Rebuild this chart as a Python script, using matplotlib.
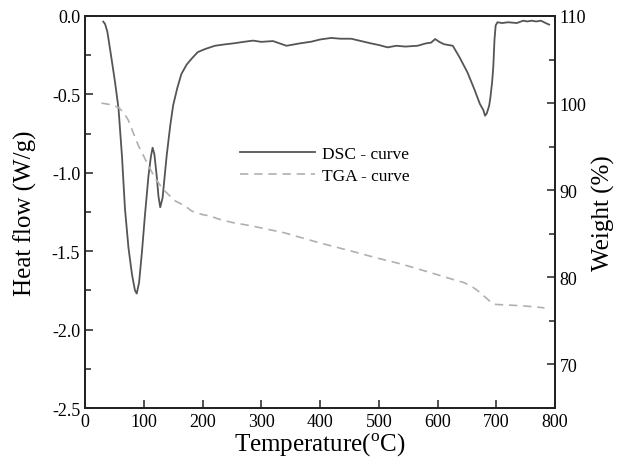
import matplotlib
matplotlib.use('Agg')
import matplotlib.pyplot as plt
from matplotlib.ticker import MultipleLocator

plt.rcParams['font.family'] = 'Liberation Serif'
plt.rcParams['mathtext.fontset'] = 'custom'
plt.rcParams['mathtext.rm'] = 'Liberation Serif'

# DSC curve (heat flow, W/g)
dsc_temp = [31, 34, 38, 45, 51, 57, 63, 68, 74, 80, 85, 88, 92, 97, 102, 108, 112, 115, 118,
            122, 125, 128, 132, 139, 145, 150, 157, 164, 173, 182, 192, 205, 221, 240, 252,
            270, 286, 300, 320, 343, 365, 385, 400, 419, 435, 453, 470, 487, 500, 515, 530,
            545, 566, 580, 589, 596, 603, 611, 626, 637, 651, 663, 672, 678, 681, 684, 688,
            690, 693, 695, 697, 699, 702, 710, 720, 735, 746, 753, 760, 768, 776, 784, 790]
dsc_heat = [-0.036, -0.05, -0.10, -0.27, -0.42, -0.59, -0.90, -1.23, -1.48, -1.65, -1.75, -1.77,
            -1.70, -1.50, -1.27, -1.02, -0.90, -0.84, -0.88, -1.02, -1.15, -1.22, -1.16, -0.89,
            -0.70, -0.57, -0.46, -0.37, -0.31, -0.27, -0.23, -0.21, -0.19, -0.18, -0.175, -0.165,
            -0.157, -0.165, -0.16, -0.19, -0.175, -0.164, -0.15, -0.14, -0.145, -0.145, -0.16,
            -0.175, -0.185, -0.20, -0.19, -0.195, -0.19, -0.175, -0.17, -0.147, -0.165, -0.18,
            -0.19, -0.26, -0.36, -0.47, -0.56, -0.60, -0.636, -0.62, -0.57, -0.52, -0.42, -0.32,
            -0.15, -0.06, -0.04, -0.045, -0.04, -0.045, -0.03, -0.035, -0.03, -0.035, -0.03,
            -0.045, -0.055]

# TGA curve (weight, %)
tga_temp = [28, 45, 57, 66, 74, 82, 91, 100, 108, 120, 133, 145, 153, 170, 182, 200, 213, 227,
            250, 284, 340, 397, 454, 498, 540, 570, 600, 629, 645, 657, 668, 680, 690, 697, 710,
            726, 750, 782]
tga_weight = [100.0, 99.8, 99.5, 98.9, 98.0, 96.6, 95.1, 93.9, 92.8, 91.3, 90.1, 89.3, 88.8, 88.2,
              87.6, 87.2, 87.05, 86.7, 86.3, 85.9, 85.1, 84.0, 83.0, 82.2, 81.5, 80.9, 80.3, 79.7,
              79.4, 79.0, 78.5, 77.8, 77.2, 76.9, 76.85, 76.8, 76.7, 76.5]

fig = plt.figure(figsize=(6.22, 4.64), dpi=100)
ax = fig.add_axes([0.1367, 0.1185, 0.7556, 0.8449])
ax2 = ax.twinx()

l1, = ax.plot(dsc_temp, dsc_heat, color='#555555', lw=1.3, label='DSC - curve')
l2, = ax2.plot(tga_temp, tga_weight, color='#b0b0b0', lw=1.2, linestyle=(0, (5, 3.5)),
               label='TGA - curve')

ax.set_xlim(0, 800)
ax.set_ylim(-2.5, 0)
ax2.set_ylim(65, 110)

ax.xaxis.set_major_locator(MultipleLocator(100))
ax.yaxis.set_minor_locator(MultipleLocator(0.25))
ax2.yaxis.set_minor_locator(MultipleLocator(5))
ax.set_yticks([0.0, -0.5, -1.0, -1.5, -2.0, -2.5])
ax.set_yticklabels(['0.0', '-0.5', '-1.0', '-1.5', '-2.0', '-2.5'])
ax2.set_yticks([70, 80, 90, 100, 110])

ax.tick_params(axis='both', which='both', direction='in', labelsize=13, color='#222222')
ax.tick_params(axis='both', which='major', length=6, width=1.1)
ax.tick_params(axis='y', which='minor', length=4, width=1.1)
ax.tick_params(axis='y', right=False)
ax2.tick_params(axis='y', which='both', direction='in', labelsize=13, color='#222222')
ax2.tick_params(axis='y', which='major', length=6, width=1.1)
ax2.tick_params(axis='y', which='minor', length=4, width=1.1)

for a in (ax, ax2):
    for s in a.spines.values():
        s.set_linewidth(1.3)
        s.set_color('#222222')

ax.set_xlabel(r'Temperature($^{\rm o}$C)', fontsize=18, labelpad=1)
ax.set_ylabel('Heat flow (W/g)', fontsize=18, labelpad=11)
ax2.set_ylabel('Weight (%)', fontsize=18, labelpad=4)

ax.legend(handles=[l1, l2], loc='center left', bbox_to_anchor=(0.33, 0.62), frameon=False,
          fontsize=12.5, handlelength=4.3, borderpad=0, borderaxespad=0, handletextpad=0.4,
          labelspacing=0.35)

fig.savefig('out.png', dpi=100)
